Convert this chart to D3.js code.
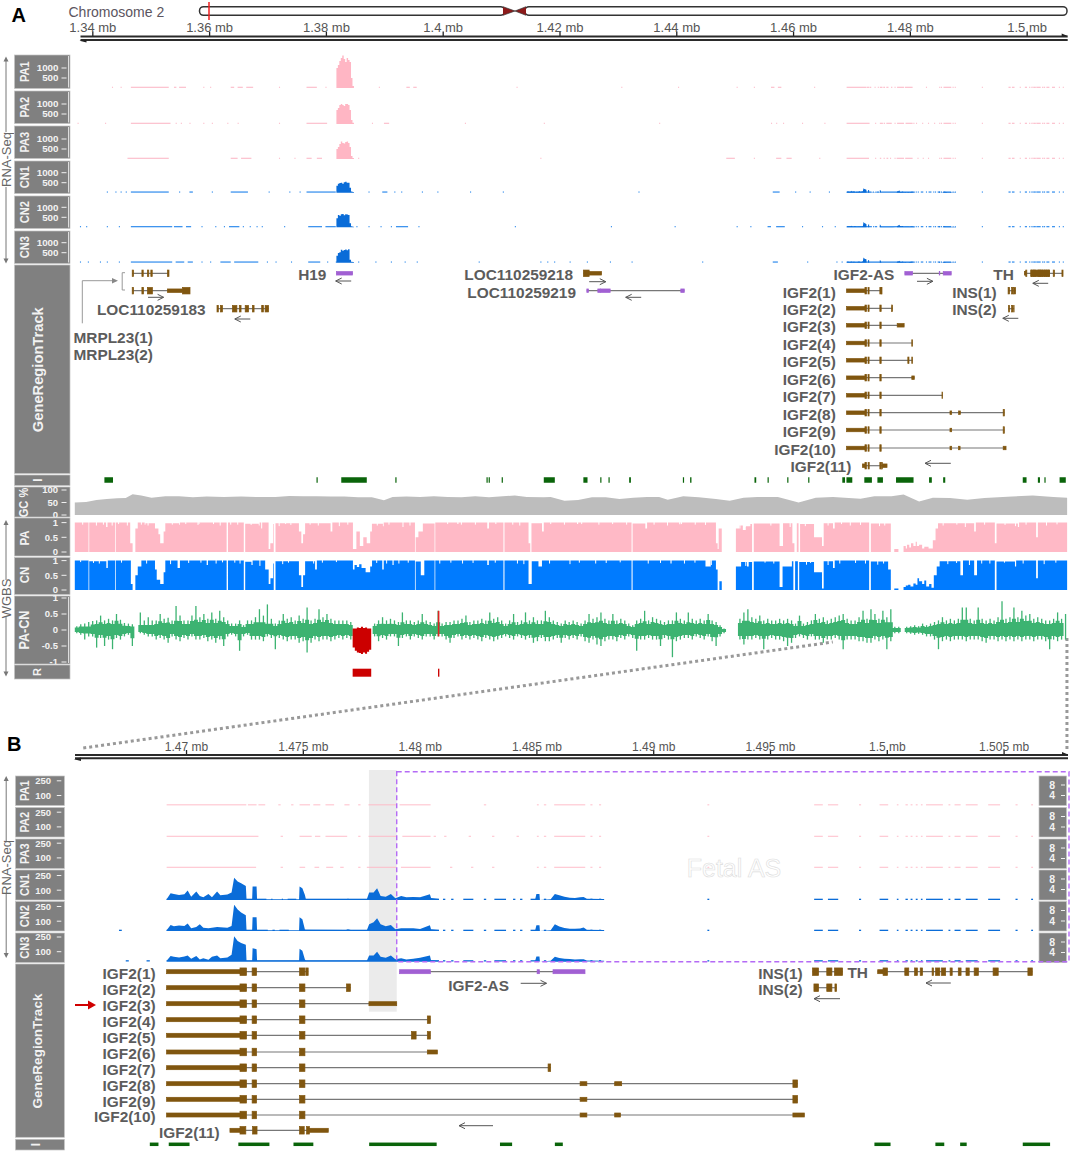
<!DOCTYPE html>
<html lang="en">
<head>
<meta charset="UTF-8">
<title>IGF2 locus tracks</title>
<script src="https://cdn.jsdelivr.net/npm/d3@7"></script>
<style>
    body { margin: 0; background: #fff; }
    svg { display: block; font-family: "Liberation Sans", Arial, sans-serif; }
</style>
</head>
<body>
<svg width="1072" height="1159"></svg>
<script>

// all genomic positions are in kb on chromosome 2

const ticksA = [1340, 1360, 1380, 1400, 1420, 1440, 1460, 1480, 1500];
const ticksB = [1470, 1475, 1480, 1485, 1490, 1495, 1500, 1505];

// RNA-seq: H19 peak (read depth)
const h19Kb = [1381.8, 1382.05, 1382.3, 1382.55, 1382.8, 1383.05, 1383.3, 1383.55, 1383.8, 1384.05, 1384.3, 1384.55, 1384.8];
const h19Pa1 = [1000, 1150, 1350, 1500, 1620, 1450, 1300, 1500, 1400, 1300, 500, 100, 100];
const h19Pa2 = [700, 800, 950, 1000, 950, 900, 1000, 1000, 950, 700, 200, 60, 60];
const h19Pa3 = [500, 600, 750, 880, 800, 780, 850, 880, 800, 600, 150, 50, 50];
const h19Cn1 = [350, 450, 480, 500, 450, 520, 550, 500, 500, 250, 60, 30, 30];
const h19Cn2 = [450, 620, 580, 650, 660, 600, 650, 640, 620, 200, 50, 30, 30];
const h19Cn3 = [350, 480, 520, 650, 600, 640, 660, 620, 670, 150, 50, 30, 30];

// RNA-seq: IGF2 region, control samples
const igfKb = [1469.17, 1469.34, 1469.48, 1469.7, 1469.93, 1470.07, 1470.22, 1470.44, 1470.59, 1470.74, 1470.96, 1471.11,
    1471.33, 1471.47, 1471.77, 1471.95, 1472.06, 1472.21, 1472.36, 1472.56, 1472.59, 1472.83, 1472.85, 1473.02, 1473.04,
    1474.84, 1474.86, 1474.98, 1475.09, 1475.13, 1476.85, 1476.93, 1477.05, 1477.74, 1477.84, 1478.03, 1478.18, 1478.33,
    1478.55, 1478.77, 1478.96, 1479.21, 1479.43, 1479.73, 1480.02, 1480.44, 1480.49, 1480.83];
const igfCn1 = [7, 69, 62, 52, 58, 96, 34, 86, 41, 28, 62, 28, 86, 48, 55, 76, 227, 189, 172, 144, 7, 7, 138, 138, 7, 7, 138, 120, 52, 10, 7, 14, 7, 7, 76, 76, 120, 41, 34, 62, 17, 41, 28, 31, 28, 58, 21, 10];
const igfCn2 = [7, 62, 48, 55, 52, 76, 28, 41, 69, 34, 28, 34, 41, 38, 34, 52, 268, 220, 190, 160, 7, 7, 140, 140, 7, 7, 140, 120, 15, 14, 10, 17, 10, 7, 69, 90, 131, 69, 48, 62, 17, 27, 28, 28, 21, 58, 17, 10];
const igfCn3 = [7, 55, 48, 41, 52, 62, 28, 55, 21, 34, 17, 48, 62, 34, 41, 69, 258, 210, 190, 170, 7, 7, 135, 125, 7, 7, 130, 110, 20, 7, 7, 7, 7, 7, 62, 60, 100, 48, 38, 62, 24, 34, 20, 28, 38, 62, 14, 7];

const asKb = [1484.95, 1485.0, 1485.13, 1485.15, 1485.61, 1485.79, 1485.98, 1486.2, 1486.43, 1486.65, 1486.87, 1487.02, 1487.16, 1487.9];
const asCn1 = [10, 62, 62, 0, 7, 62, 48, 34, 24, 21, 28, 31, 14, 10];
const asCn2 = [10, 58, 58, 0, 7, 70, 45, 30, 24, 22, 26, 36, 12, 10];
const asCn3 = [10, 50, 50, 0, 7, 48, 36, 28, 26, 20, 24, 22, 10, 8];

// RNA-seq: covered stretches outside the peaks
const pa1Cover = [[1343.36, 1343.5], [1344.84, 1345], [1346.6, 1353.09], [1353.98, 1354.39], [1354.86, 1356.04], [1359, 1359.15], [1360.17, 1360.3], [1363.7, 1364.29], [1364.88, 1365.77], [1366.36, 1367.54], [1371.96, 1372.1], [1376.68, 1378.45], [1379.92, 1380.1], [1389.06, 1389.2], [1393.78, 1394.37], [1394.96, 1395.55], [1412.64, 1412.8], [1430.58, 1430.75], [1440.3, 1440.45], [1450.33, 1450.5], [1453.28, 1453.4], [1456.22, 1456.81], [1457.4, 1457.99], [1463.6, 1463.75],
    [1469.17, 1472.58], [1472.65, 1473.02], [1473.1, 1473.39], [1473.95, 1474.05], [1474.5, 1474.6], [1474.86, 1475.31], [1475.45, 1475.75], [1475.97, 1476.34], [1476.78, 1477], [1477.37, 1477.47], [1477.81, 1478.99], [1479.14, 1480.47], [1482.75, 1482.85]];
const pa2Cover = [[1337.47, 1337.6], [1342.18, 1342.3], [1346.6, 1353.39], [1354.27, 1354.4], [1355.15, 1355.3], [1356.63, 1356.8], [1359, 1359.15], [1360.46, 1360.6], [1363.11, 1363.25], [1364.88, 1365], [1371.96, 1372.1], [1376.68, 1380.21], [1387.88, 1388], [1389.94, 1390.83], [1403.8, 1403.95], [1417.31, 1417.45], [1437.06, 1437.2], [1456.22, 1456.35], [1457.1, 1457.25], [1458.28, 1458.4], [1461.53, 1461.65], [1465.36, 1465.5],
    [1469.17, 1473.1], [1474.05, 1474.15], [1474.86, 1475.38], [1475.52, 1475.75], [1475.97, 1476.9], [1477.37, 1477.47], [1477.81, 1478.99], [1479.26, 1480.47], [1480.6, 1480.7], [1481.05, 1481.15], [1482.1, 1482.2], [1483.1, 1483.2], [1484.15, 1484.25]];
const pa3Cover = [[1346.02, 1353.09], [1363.7, 1364.88], [1365.47, 1367.24], [1371.96, 1372.1], [1374.61, 1374.75], [1376.68, 1377.56], [1378.45, 1379.33], [1385.52, 1385.65], [1416.72, 1416.85], [1448.56, 1450.03], [1453.28, 1453.4], [1457.1, 1457.99], [1458.87, 1459.76], [1464.48, 1464.6],
    [1469.17, 1473], [1474.05, 1474.15], [1474.86, 1475.1], [1475.5, 1475.7], [1476, 1476.3], [1476.6, 1476.75], [1477.37, 1477.47], [1477.74, 1478.99], [1479.2, 1480.47], [1481.3, 1481.4], [1482.2, 1482.3], [1483.1, 1483.2]];
const cn1Cover = [[1342.48, 1342.6], [1343.95, 1344.1], [1344.84, 1345], [1345.72, 1345.85], [1346.6, 1353.09], [1354.86, 1355], [1356.63, 1357.22], [1360.46, 1360.6], [1363.7, 1366.65], [1370.19, 1370.35], [1373.73, 1373.85], [1375.49, 1375.6], [1376.68, 1381.69], [1387.29, 1387.4], [1389.65, 1390.53], [1391.71, 1391.85], [1392.89, 1393], [1396.43, 1396.55], [1399.08, 1399.2], [1404.68, 1404.8], [1410.29, 1410.4], [1433.52, 1433.65], [1456.52, 1457.7], [1460.35, 1460.5], [1462.83, 1462.95], [1466.13, 1466.25],
    [1469.17, 1473.44], [1473.65, 1473.7], [1474.1, 1474.15], [1474.35, 1474.72], [1475.1, 1480.83]];
const cn2Cover = [[1337.88, 1338], [1338.94, 1339.05], [1342.48, 1342.6], [1344.54, 1344.65], [1346.6, 1353.68], [1353.98, 1355.45], [1356.04, 1356.92], [1358.69, 1358.8], [1361.05, 1361.2], [1362.53, 1362.65], [1363.41, 1365.18], [1365.77, 1365.9], [1366.95, 1367.1], [1368.12, 1368.25], [1369.01, 1369.15], [1372.84, 1372.95], [1376.97, 1379.33], [1379.92, 1381.69], [1385.22, 1385.35], [1387.29, 1387.4], [1389.35, 1389.5], [1391.12, 1391.25], [1392, 1394.07], [1395.84, 1395.95], [1412.35, 1412.5], [1428.8, 1428.95], [1439.71, 1439.85], [1450.33, 1450.45], [1452.68, 1452.8], [1455.63, 1456.22], [1457.1, 1458.58], [1461.53, 1461.65], [1464.95, 1465.05], [1467.13, 1467.25],
    [1469.17, 1473.5], [1473.7, 1473.8], [1474, 1474.4], [1474.84, 1480.83]];
const cn3Cover = [[1337.88, 1338], [1339.23, 1339.35], [1341.3, 1341.4], [1342.48, 1342.6], [1344.54, 1344.65], [1346.6, 1353.68], [1354.27, 1355.74], [1356.33, 1357.22], [1358.69, 1358.8], [1360.17, 1360.3], [1361.93, 1363.7], [1364.29, 1368.42], [1369.89, 1370], [1371.37, 1371.5], [1374.02, 1374.15], [1376.97, 1379.03], [1380.21, 1380.35], [1381.69, 1381.8], [1385.52, 1385.65], [1388.47, 1388.6], [1391.12, 1391.25], [1393.48, 1393.6], [1395.55, 1395.7], [1406.16, 1406.3], [1416.72, 1416.85], [1417.9, 1418], [1419.08, 1419.2], [1421.73, 1421.85], [1424.68, 1424.8], [1428.63, 1428.75], [1432.34, 1432.45], [1444.43, 1444.55], [1456.52, 1457.4], [1462.41, 1462.55], [1467.42, 1467.55], [1468.31, 1468.45],
    [1469.17, 1480.83]];
const cnMidCover = [[1481, 1481.1], [1481.35, 1481.45], [1481.87, 1482.3], [1482.75, 1482.85], [1483.2, 1483.7], [1484, 1484.1], [1484.3, 1484.4], [1484.75, 1485]];
const sharedRightCover = [[1485.02, 1485.1], [1485.32, 1485.42], [1485.76, 1487.09], [1487.31, 1487.4], [1487.68, 1487.77], [1492.32, 1492.4], [1496.89, 1497.26], [1497.48, 1497.92], [1498.81, 1498.9], [1499.69, 1500.06], [1500.43, 1500.5], [1500.8, 1500.9], [1501.02, 1501.1], [1501.24, 1501.32], [1501.46, 1501.53], [1501.68, 1502.4], [1502.64, 1502.72], [1502.9, 1503.16], [1503.38, 1503.89], [1504.34, 1504.85], [1505.51, 1505.6], [1506.18, 1506.26]];

// genes: exon lists
const igfUtr = [[1469.17, 1472.31]];
const igfCds = [[1472.31, 1472.59], [1472.83, 1473.02], [1474.86, 1475.09]];
const igf11Utr = [[1471.88, 1472.31], [1475.28, 1476.09]];
const igf11Cds = [[1472.31, 1472.56], [1472.85, 1473.04], [1474.86, 1475.06], [1475.16, 1475.28]];
const thCds = [[1499.84, 1500.03], [1500.77, 1500.94], [1501.19, 1501.31], [1501.43, 1501.53], [1501.94, 1502], [1502.09, 1502.27], [1502.34, 1502.52], [1502.71, 1502.8], [1503.06, 1503.18], [1503.39, 1503.53], [1503.74, 1503.92], [1504.55, 1504.77], [1506.04, 1506.23]];
const thUtr = [[1499.61, 1499.84]];
const thBlockA = [[1500.7, 1503.92]]; // reads as one block at the wide zoom
const genes = {
    "IGF2(1)": { tall: igfCds.concat([[1475.13, 1475.23]]), mid: igfUtr },
    "IGF2(2)": { tall: igfCds.concat([[1476.87, 1477.04]]), mid: igfUtr },
    "IGF2(3)": { tall: igfCds, mid: igfUtr.concat([[1477.83, 1479.02]]) },
    "IGF2(4)": { tall: igfCds.concat([[1480.33, 1480.46]]), mid: igfUtr },
    "IGF2(5)": { tall: igfCds.concat([[1479.65, 1479.85], [1480.33, 1480.46]]), mid: igfUtr },
    "IGF2(6)": { tall: igfCds, mid: igfUtr.concat([[1480.33, 1480.76]]) },
    "IGF2(7)": { tall: igfCds.concat([[1485.5, 1485.61]]), mid: igfUtr },
    "IGF2(8)": { tall: igfCds.concat([[1495.98, 1496.18]]), mid: igfUtr.concat([[1486.87, 1487.16], [1488.35, 1488.65]]) },
    "IGF2(9)": { tall: igfCds.concat([[1495.98, 1496.18]]), mid: igfUtr.concat([[1486.87, 1487.16]]) },
    "IGF2(10)": { tall: igfCds, mid: igfUtr.concat([[1486.87, 1487.16], [1488.35, 1488.6], [1495.98, 1496.47]]) },
    "IGF2(11)": { tall: igf11Cds, mid: igf11Utr },
    "IGF2-AS": { tall: [], mid: [[1479.14, 1480.46], [1485.03, 1485.13], [1485.71, 1487.08]], color: "#a160d3" },
    "INS(1)": { tall: [[1496.82, 1497.08], [1497.43, 1497.65], [1497.76, 1498.11]], mid: [] },
    "INS(2)": { tall: [[1496.88, 1497.08], [1497.43, 1497.65], [1497.78, 1497.85]], mid: [] },
    "TH": { tall: thCds, mid: thUtr },
    "TH-wide": { tall: thCds.concat(thBlockA), mid: thUtr },
    "MRPL23(1)": { tall: [[1346.83, 1347.07], [1348.49, 1348.72], [1349.43, 1349.67], [1350.02, 1350.26], [1352.86, 1353.13]], mid: [] },
    "MRPL23(2)": { tall: [[1346.83, 1347.07], [1348.49, 1348.78], [1349.43, 1350.3], [1355.45, 1356.73]], mid: [[1352.86, 1355.45]] },
    "LOC110259183": { tall: [[1361.35, 1361.58], [1361.94, 1362.3], [1363.99, 1364.76], [1365.17, 1365.47], [1366.18, 1366.76], [1367.41, 1367.7], [1369, 1369.3], [1369.59, 1370.19]], mid: [] },
    "H19": { tall: [], mid: [[1381.8, 1384.57]], color: "#a160d3" },
    "LOC110259218": { tall: [[1424.09, 1425.08]], mid: [[1425.08, 1427.2]] },
    "LOC110259219": { tall: [], mid: [[1424.68, 1424.97], [1426.56, 1427.04], [1427.04, 1428.68], [1440.77, 1441.37]], color: "#a160d3" }
};

// CpG islands
const cpgA = [[1342.07, 1343.54], [1378.39, 1378.5], [1382.63, 1387], [1391.89, 1392.07], [1407.5, 1407.7], [1407.87, 1407.99], [1410.1, 1410.29], [1417.31, 1419.2], [1424.09, 1424.8], [1426.98, 1427.16], [1428.39, 1428.57], [1431.93, 1432.23], [1441.13, 1441.25], [1442.37, 1442.6], [1453.39, 1453.69], [1455.63, 1455.75], [1459, 1459.11], [1462.59, 1462.71], [1468.43, 1468.9], [1469.14, 1470.14], [1472.2, 1473.5], [1474.44, 1475.39], [1477.63, 1480.63], [1483.29, 1483.76], [1485.7, 1486.06], [1499.33, 1499.98], [1501.92, 1502.28], [1503.04, 1503.22], [1505.64, 1506.7]];
const cpgB = [[1468.45, 1468.82], [1469.26, 1470.15], [1472.24, 1473.57], [1474.6, 1475.45], [1477.84, 1480.73], [1483.44, 1483.96], [1485.79, 1486.13], [1499.47, 1500.16], [1502.08, 1502.46], [1503.14, 1503.42], [1505.82, 1506.99]];

// GC content
const gcKb = [1337, 1338.94, 1340.71, 1342.48, 1344.25, 1345.72, 1346.9, 1348.38, 1350.14, 1352.5, 1354.86, 1357.22, 1359.58, 1362.53, 1365.47, 1368.42, 1371.37, 1373.73, 1376.09, 1378.45, 1380.8, 1383.16, 1385.52, 1387.88, 1389.94, 1391.42, 1393.78, 1396.13, 1398.49, 1400.85, 1403.21, 1405.57, 1407.93, 1410.29, 1412.35, 1414.41,
    1417.31, 1418.49, 1420.85, 1423.2, 1425.56, 1427.92, 1430.28, 1432.64, 1435, 1437.06, 1438.54, 1441.19, 1443.84, 1446.79, 1449.15, 1451.51, 1453.87, 1457.4, 1460.94, 1463.89, 1466.84, 1471.55, 1473.91, 1476.86, 1478.92, 1481.58, 1483.94, 1486.88, 1489.83, 1492.78, 1497.5, 1501.04, 1504.57, 1506.93];
const gcPct = [50, 52, 60, 64, 67, 68, 83, 78, 69, 75, 75, 71, 74, 72, 74, 72, 72, 76, 75, 75, 74, 74, 71, 71, 59, 72, 74, 72, 75, 72, 71, 75, 71, 75, 78, 72,
    71, 72, 57, 60, 71, 71, 64, 69, 72, 72, 61, 75, 71, 64, 57, 69, 72, 72, 50, 69, 72, 65, 75, 75, 82, 54, 69, 68, 61, 68, 74, 78, 72, 69];

// WGBS methylation level, [kb, level from here on]
const paMeth = [[1337, 1], [1339.35, 0], [1339.47, 1], [1342.36, .85], [1342.6, 1], [1343.89, 0], [1344.01, 1], [1346.49, .3], [1346.9, 0], [1347.37, .8], [1347.78, 1], [1348.96, .93], [1349.1, .98], [1350.73, .8], [1351.32, .6], [1351.62, .3], [1352.21, .7], [1352.5, .98], [1354.86, .93], [1355, 1], [1358.2, .95], [1358.35, 1], [1363, 0], [1363.23, 1], [1365.94, 0], [1366.18, .96], [1368.5, .9], [1368.65, 1], [1370.19, .1], [1370.48, .3], [1370.96, .95], [1371.07, 0], [1371.37, .98], [1375.38, .7], [1375.79, .3], [1376.09, .6], [1376.44, .98], [1380.8, .7], [1381.1, 1], [1384.63, .1], [1385.22, .7], [1385.81, .2], [1386.4, .5], [1386.99, .3], [1387.58, .7], [1387.88, .96], [1389.76, .88], [1389.9, 1], [1395.25, 0], [1395.37, .5], [1395.84, .7], [1396.6, .97], [1398.61, 0], [1398.73, 1], [1402.5, .95], [1402.7, 1], [1407.63, .8], [1407.92, 1], [1410.4, 0], [1410.58, 1], [1414.7, .3], [1415, 0], [1415.2, .98], [1417.01, .7], [1417.31, 1], [1423, .95], [1423.2, 1], [1432.34, 0], [1432.52, .97], [1434.7, .8], [1435, 1], [1440.5, .94], [1440.7, 1], [1446.79, .3], [1447.08, .1], [1447.26, .8], [1447.79, 0], [1450.21, .8], [1450.8, .9], [1451.4, .75], [1451.9, .88], [1452.68, .95], [1452.98, 0], [1453.27, .97], [1457.69, .2], [1458.28, .98], [1459.88, .3], [1460.23, 0], [1460.64, .98], [1460.94, 0], [1461.2, .95], [1463.59, .5], [1464.95, .2], [1465.24, .98], [1466.84, .8], [1467.13, 1], [1473.03, 0], [1473.32, .97], [1476.74, 0], [1477.33, .1], [1478.04, 0], [1478.92, .2], [1479.3, .12], [1479.5, .25], [1479.9, .15], [1480.2, .3], [1480.6, .2], [1481, .35], [1481.2, .2], [1481.58, .25], [1482.1, .12], [1482.47, .18], [1483.2, .12], [1483.93, .4], [1484.4, .8], [1484.82, .98], [1491.01, .7], [1491.3, 1], [1494.55, .3], [1494.84, .97], [1498.5, .85], [1498.7, 1], [1501.62, .5], [1501.92, 1], [1506.93, 1]];
const cnMeth = [[1337, 1], [1339.35, 0], [1339.47, .98], [1342.4, .75], [1342.65, 1], [1343.89, 0], [1344.01, 1], [1346.6, .2], [1346.9, 0], [1347.37, .5], [1347.78, .8], [1348.4, 1], [1350.73, .7], [1351.03, .35], [1351.62, .2], [1352.21, .6], [1352.5, 1], [1354.6, .75], [1355, 1], [1359.58, .85], [1359.8, 1], [1363, 0], [1363.23, 1], [1365.94, 0], [1366.18, .96], [1367.25, .85], [1367.45, 1], [1369.6, .7], [1370.2, .2], [1370.5, .4], [1370.96, .9], [1371.07, 0], [1371.37, .98], [1375.38, .5], [1375.79, .1], [1376.09, .5], [1376.44, .98], [1378.15, .7], [1378.45, 1], [1384.63, .7], [1384.9, .85], [1385.3, .78], [1385.7, .88], [1386.1, .75], [1386.8, .6], [1387.58, .8], [1387.9, 1], [1389.65, .7], [1389.9, 1], [1391.4, .85], [1391.6, 1], [1395.25, 0], [1395.37, .97], [1396.25, .5], [1396.85, 1], [1398.61, 0], [1398.73, 1], [1407.63, .85], [1407.9, 1], [1410.4, 0], [1410.58, 1], [1414.7, .2], [1415.25, .98], [1416.4, .8], [1417, 1], [1432.34, 0], [1432.52, 1], [1439, .9], [1439.2, 1], [1445, .8], [1445.9, 1], [1446.79, .7], [1447.08, 0], [1447.38, .3], [1447.79, 0], [1450.21, .8], [1451.1, .95], [1452.1, .8], [1452.4, .95], [1452.98, 0], [1453.27, .97], [1457.69, .1], [1458.2, .8], [1459.8, .98], [1460.05, 0], [1460.35, .98], [1460.82, 0], [1461.05, .95], [1463.59, .6], [1464.95, .05], [1465.24, .98], [1466.84, .75], [1467.13, 1], [1473.03, 0], [1473.32, .97], [1476.28, .7], [1476.74, 0], [1477.33, .05], [1478.04, 0], [1478.92, .1], [1479.3, .15], [1479.7, .18], [1480.1, .12], [1480.6, .22], [1481, .18], [1481.3, .4], [1481.58, .3], [1482.1, .2], [1482.47, .32], [1482.8, .12], [1483.3, .2], [1483.7, .08], [1484.1, .5], [1484.6, .8], [1485.1, .98], [1488.65, .5], [1489.1, 1], [1491.01, .5], [1491.5, 1], [1494.55, 0], [1494.84, .97], [1498, .8], [1498.2, 1], [1501.62, .4], [1501.92, 1], [1506.93, 1]];

// small notches in the top edge of the methylation tracks, [kb, level]
const paNotches = [[1338.35, .93], [1340.7, .9], [1341.9, .93], [1343.4, .9], [1344.5, .95], [1346, .9], [1348.4, .93], [1349.55, .9], [1353.7, .93], [1356, .95], [1358.1, .92], [1360.75, .95], [1361.9, .9], [1363.7, .93], [1364.9, .93], [1367.2, .92], [1369, .8], [1372, .88], [1373.1, .95], [1374, .92], [1377.3, .93], [1378.7, .9], [1382.3, .88], [1383.75, .93], [1388.8, .9], [1390.8, .93], [1393.2, .85], [1394.4, .9], [1400.85, .95], [1403.2, .93], [1405.6, .93], [1409.1, .95], [1412, .93], [1413.2, .9], [1418.5, .95], [1420.85, .93], [1423.8, .95], [1426.75, .93], [1429.1, .95], [1431.5, .93], [1436.2, .93], [1438.5, .9], [1440.9, .95], [1443.25, .93], [1445, .92], [1450.9, .8], [1451.8, .85], [1456.2, .9], [1459.5, .85], [1462.1, .88], [1466, .9], [1468.3, .95], [1469.8, .9], [1471.55, .92], [1474.8, .88], [1475.7, .9], [1485.7, .9], [1488.05, .93], [1489.5, .85], [1492.8, .93], [1496.3, .92], [1498.1, .88], [1499.9, .93], [1503.4, .9], [1505.2, .94]];
const cnNotches = [[1338, .95], [1340.2, .92], [1341.2, .9], [1345, .93], [1349.3, .9], [1353.4, .88], [1356.5, .92], [1358.6, .93], [1361.2, .9], [1362.3, .94], [1364.4, .93], [1365.3, .9], [1368.7, .82], [1372.6, .88], [1373.6, .93], [1377.9, .9], [1379.4, .93], [1381.8, .95], [1388.7, .92], [1390.4, .9], [1392.5, .9], [1394.1, .93], [1399.5, .9], [1401.4, .93], [1403.4, .9], [1405.2, .92], [1409, .93], [1412.8, .9], [1413.9, .88], [1418.3, .9], [1421.8, .88], [1423.4, .93], [1426.2, .9], [1428, .92], [1430.4, .94], [1435.2, .9], [1437.3, .92], [1441.4, .9], [1443.2, .93], [1446, .85], [1449.9, .9], [1451.9, .82], [1455.2, .93], [1456.7, .9], [1462.3, .86], [1463, .92], [1466, .85], [1468, .9], [1470.7, .92], [1472.4, .9], [1474.5, .86], [1475.5, .9], [1486.5, .88], [1488, .92], [1490.2, .85], [1492.3, .9], [1493.7, .9], [1496.2, .93], [1499.4, .9], [1503, .88], [1505, .93]];

// PA-CN difference, one value per 0.68 kb bin from 1337 kb
const diffStart = 1337, diffStep = 0.68;
const diffUp = [.12, .18, .2, .25, .28, .3, .45, .3, .35, .3, .5, .32, .22, .2, .18, 0, .55, .3, .4, .3,
    .3, .5, .35, .38, .3, .75, .45, .3, .3, .45, .75, .4, .5, .35, .55, .35, .6, .4, .3, .2,
    .2, .3, .15, .3, .3, .4, .65, .45, .8, .35, .2, .3, .5, .35, .4, .3, .45, .35, .7, .3,
    .35, .65, .4, .5, .35, .3, .3, .3, .3, .25, 0, 0, 0, 0, 0, .2, .3, .4, .3, .35,
    .3, .25, .55, .3, .3, .25, .3, .5, .3, .25, .2, .6, .2, .25, .25, .3, .3, .35, .45, .25,
    .3, .3, .35, .3, .55, .35, .4, .3, .2, .3, .5, .25, .3, .55, .3, .4, .3, .3, .6, .4,
    .3, .25, .2, .3, .25, .3, .25, .2, .3, .5, .35, .4, .55, .35, .3, .5, .3, .35, .3, .2,
    .15, .3, .35, .6, .3, .4, .35, .3, .25, .3, .3, .55, .35, .3, .55, .35, .3, .35, .3, .5,
    .3, .25, .15, .05, 0, 0, 0, .35, .55, .65, .4, .35, .45, .3, .35, .3, .3, .35, .3, .35,
    .3, .2, .45, .2, .25, .3, .5, .35, .4, .3, .35, .4, .45, .5, .35, .3, .3, .4, .6, .35,
    .65, .5, .35, .6, .4, .65, .1, .1, 0, .1, .12, .15, .12, .2, .15, .2, .25, .3, .4, .3,
    .35, .3, .35, .7, .7, .35, .3, .7, .35, .3, .35, .3, .4, .9, .35, .4, .7, .4, .6, .45, .5, .35, .4, .35, .3, .3, .35, .55, .35, .5];
const diffDown = [-.1, -.15, -.3, -.2, -.2, -.55, -.25, -.5, -.3, -.6, -.25, -.3, -.2, -.15, -.5, 0, -.1, -.15, -.2, -.2,
    -.3, -.25, -.3, -.4, -.2, -.3, -.35, -.25, -.3, -.2, -.3, -.3, -.25, -.35, -.3, -.4, -.3, -.5, -.2, -.15,
    -.2, -.65, -.2, -.15, -.3, -.3, -.3, -.35, -.2, -.25, -.6, -.25, -.3, -.35, -.3, -.3, -.4, -.35, -.7, -.4,
    -.3, -.35, -.3, -.3, -.35, -.3, -.25, -.3, -.25, -.3, 0, 0, 0, 0, 0, -.2, -.35, -.25, -.3, -.2,
    -.2, -.5, -.25, -.2, -.3, -.2, -.25, -.3, -.2, -.2, -.3, -.2, -.2, -.3, -.4, -.25, -.2, -.3, -.25, -.3,
    -.25, -.3, -.35, -.25, -.3, -.35, -.3, -.25, -.2, -.25, -.3, -.2, -.25, -.3, -.25, -.4, -.35, -.25, -.35, -.35,
    -.3, -.25, -.4, -.25, -.3, -.25, -.3, -.2, -.35, -.4, -.3, -.45, -.5, -.35, -.3, -.3, -.35, -.25, -.3, -.2,
    -.25, -.65, -.3, -.3, -.25, -.3, -.3, -.5, -.25, -.3, -.85, -.35, -.3, -.25, -.25, -.3, -.2, -.25, -.3, -.2,
    -.35, -.5, -.2, -.1, 0, 0, 0, -.3, -.45, -.3, -.3, -.25, -.3, -.6, -.3, -.25, -.3, -.3, -.35, -.5,
    -.4, -.25, -.2, -.25, -.3, -.2, -.3, -.3, -.4, -.3, -.3, -.25, -.3, -.6, -.3, -.3, -.3, -.35, -.35, -.4,
    -.4, -.3, -.35, -.3, -.6, -.35, -.1, -.1, 0, -.1, -.12, -.15, -.12, -.15, -.2, -.2, -.3, -.6, -.35, -.3,
    -.35, -.3, -.3, -.3, -.35, -.3, -.3, -.3, -.35, -.4, -.3, -.3, -.35, -.3, -.35, -.3, -.35, -.3, -.35, -.3, -.3, -.35, -.3, -.3, -.35, -.6, -.3, -.35, -.3, -.3];
// thickness of the solid middle band, one value per 4 bins
const diffCore = [.07, .15, .18, .16, .1, .17, .18, .2, .2, .18, .2, .15, .12, .18, .2, .2, .2, .2, .18, .12, .15, .15, .15, .15, .15, .15, .18, .15, .15, .17, .15, .15, .15, .18, .2, .17, .18, .18, .15, .2, .14, .17, .18, .17, .15, .2, .2, .17, .2, .2, .2, .15, .12, .15, .15, .2, .2, .18, .2, .22, .18, .18, .18];

// differentially methylated regions
const dmrRegions = [[1384.58, 1387.76], [1399.2, 1399.43]];
const dmrKb = [1384.58, 1384.95, 1385.3, 1385.65, 1386, 1386.35, 1386.7, 1387.05, 1387.4, 1387.76];
const dmrUp = [.05, .05, .08, .06, .1, .06, .08, .05, .05, .04];
const dmrDown = [-.55, -.65, -.7, -.72, -.75, -.7, -.74, -.68, -.62, -.55];

// Track layout (pixels)
const rowsA = [
    { name: "PA1", y0: 55, y1: 88.5, base: 88, hist: h19Pa1, cover: pa1Cover, pa: true },
    { name: "PA2", y0: 91, y1: 123.5, base: 124, hist: h19Pa2, cover: pa2Cover, pa: true },
    { name: "PA3", y0: 126, y1: 158.5, base: 159, hist: h19Pa3, cover: pa3Cover, pa: true },
    { name: "CN1", y0: 161, y1: 193.5, base: 192.7, hist: h19Cn1, cover: cn1Cover, igf: igfCn1, as: asCn1 },
    { name: "CN2", y0: 196, y1: 228.5, base: 227.3, hist: h19Cn2, cover: cn2Cover, igf: igfCn2, as: asCn2 },
    { name: "CN3", y0: 231, y1: 263.5, base: 262.7, hist: h19Cn3, cover: cn3Cover, igf: igfCn3, as: asCn3 }
];
const rowsB = [
    { name: "PA1", y0: 776, y1: 805.5, base: 805.3, cover: pa1Cover, pa: true },
    { name: "PA2", y0: 807.5, y1: 837, base: 836.7, cover: pa2Cover, pa: true },
    { name: "PA3", y0: 839, y1: 868.5, base: 867.7, cover: pa3Cover, pa: true },
    { name: "CN1", y0: 870, y1: 900, base: 900, cover: cn1Cover, igf: igfCn1, as: asCn1 },
    { name: "CN2", y0: 901.5, y1: 931, base: 931, cover: cn2Cover, igf: igfCn2, as: asCn2 },
    { name: "CN3", y0: 933, y1: 962.5, base: 961.5, cover: cn3Cover, igf: igfCn3, as: asCn3 }
];
const igf2Names = d3.range(1, 12).map(i => "IGF2(" + i + ")");
const igf2YA = [290.7, 308.3, 325.3, 343, 360.3, 377.7, 395.3, 412.7, 430, 448, 465.7];
const igf2YB = [971.7, 987.7, 1003.7, 1019.7, 1035.3, 1052, 1067.7, 1083.7, 1099.3, 1115, 1130.3];

const colors = { side: "#808080", gene: "#80560f", intron: "#777", cpg: "#0a640a", pa: "#ffb6c4", paLight: "#fcc4d0", cn: "#0a6cd8", cnLight: "#3f94ee", paMeth: "#ffb9c6", cnMeth: "#007bff", green: "#3cb371", red: "#cc0000", gc: "#bdbdbd", text: "#5c5c5c" };

let svg = d3.select("svg");

const xA = d3.scaleLinear().domain([1337, 1507.2]).range([74.8, 1068.7]);
const xB = d3.scaleLinear().domain([1465.2, 1507.8]).range([73.9, 1069]);

function sideBox(g, x0, x1, y0, y1) {
    g.append("rect").attr("x", x0).attr("y", y0).attr("width", x1 - x0).attr("height", y1 - y0)
        .attr("fill", colors.side).attr("stroke", "#c4c4c4").attr("stroke-width", 0.7);
}

function rotText(g, txt, x, y, size, color, weight, squeeze) {
    return g.append("text").text(txt)
        .attr("transform", "translate(" + x + "," + y + ") rotate(-90) scale(" + (squeeze || 1) + ",1)")
        .attr("text-anchor", "middle").attr("dy", ".35em")
        .attr("font-size", size).attr("fill", color).attr("font-weight", weight || "bold");
}

// white value labels and tick marks inside the grey side boxes
function sideTicks(g, y, values, labelX, t0, t1, size) {
    values.forEach(function (v) {
        g.append("line").attr("x1", t0).attr("x2", t1).attr("y1", y(v)).attr("y2", y(v))
            .attr("stroke", "#f0f0f0").attr("stroke-width", 1);
        g.append("text").text(v).attr("x", labelX).attr("y", y(v)).attr("dy", ".35em")
            .attr("text-anchor", "end").attr("font-size", size).attr("font-weight", "bold").attr("fill", "#f2f2f2");
    });
}

function vArrow(g, x, y0, y1, gap0, gap1, label) {
    let c = "#777";
    g.append("line").attr("x1", x).attr("x2", x).attr("y1", y0 + 3).attr("y2", gap0).attr("stroke", c);
    g.append("line").attr("x1", x).attr("x2", x).attr("y1", gap1).attr("y2", y1 - 3).attr("stroke", c);
    g.append("path").attr("d", d3.line()([[x - 2.5, y0 + 5], [x, y0], [x + 2.5, y0 + 5]])).attr("fill", c);
    g.append("path").attr("d", d3.line()([[x - 2.5, y1 - 5], [x, y1], [x + 2.5, y1 - 5]])).attr("fill", c);
    rotText(g, label, x, (gap0 + gap1) / 2, 13, "#666", "normal");
}

function hArrow(g, x0, x1, y, dir, color, w) {
    let c = color || "#555";
    g.append("line").attr("x1", x0).attr("x2", x1).attr("y1", y).attr("y2", y).attr("stroke", c).attr("stroke-width", w || 1);
    let tip = dir > 0 ? x1 : x0;
    g.append("path").attr("d", d3.line()([[tip - dir * 6, y - 3], [tip, y], [tip - dir * 6, y + 3]]))
        .attr("fill", "none").attr("stroke", c).attr("stroke-width", w || 1);
}

function drawAxis(g, x, ticks, yLine, xStart, fontSize) {
    let axis = g.append("g").attr("transform", "translate(0," + yLine + ")")
        .call(d3.axisTop(x).tickValues(ticks).tickFormat(d => (d / 1000) + " mb").tickSize(5).tickPadding(-0.5));
    axis.select(".domain").remove();
    axis.selectAll("line").attr("stroke", "#222").attr("stroke-width", 1.3);
    axis.selectAll("text").attr("font-size", fontSize).attr("fill", "#555").attr("font-family", "Liberation Sans, Arial, sans-serif");
    [0, 3.3].forEach(function (dy) {
        g.append("line").attr("x1", xStart).attr("x2", x.range()[1] - 1).attr("y1", yLine + dy).attr("y2", yLine + dy)
            .attr("stroke", "#2a2a2a").attr("stroke-width", 2);
    });
    g.append("path").attr("d", d3.line()([[xStart - 1, yLine + 4.2], [xStart + 6, yLine + 2.6], [xStart + 6, yLine + 6]])).attr("fill", "#222");
    g.append("path").attr("d", d3.line()([[x.range()[1] - 1, yLine - 0.6], [x.range()[1] - 7, yLine - 3], [x.range()[1] - 7, yLine]])).attr("fill", "#222");
}

// coverage of one RNA-seq sample
function drawCoverage(g, x, row, y, minH, lightColor, fullColor, fromKb) {
    let inView = d => d[1] >= fromKb && d[0] <= x.domain()[1];
    let cover = row.cover.concat(sharedRightCover, row.pa ? [] : cnMidCover).filter(inView);
    g.append("g").selectAll("rect").data(cover).join("rect")
        .attr("x", d => x(d[0])).attr("width", d => Math.max(1.1, x(d[1]) - x(d[0])))
        .attr("y", row.base - minH).attr("height", minH).attr("fill", lightColor);
    let hist = d3.area().x(d => x(d[0])).y0(row.base).y1(d => y(d[1]));
    if (row.hist) {
        g.append("path").attr("d", hist.curve(d3.curveStepAfter)(d3.zip(h19Kb, row.hist))).attr("fill", fullColor);
    }
    if (row.igf) {
        g.append("path").attr("d", hist.curve(d3.curveLinear)(d3.zip(igfKb, row.igf))).attr("fill", fullColor);
        g.append("path").attr("d", hist.curve(d3.curveLinear)(d3.zip(asKb, row.as))).attr("fill", fullColor);
    }
}

function drawGene(g, x, name, yc, tallH, midH) {
    let gene = genes[name];
    let color = gene.color || colors.gene;
    let all = gene.tall.concat(gene.mid);
    let lo = d3.min(all, d => d[0]), hi = d3.max(all, d => d[1]);
    g.append("line").attr("x1", x(lo)).attr("x2", x(hi)).attr("y1", yc).attr("y2", yc)
        .attr("stroke", colors.intron).attr("stroke-width", 1.2);
    let box = function (list, h) {
        g.append("g").selectAll("rect").data(list).join("rect")
            .attr("x", d => x(d[0])).attr("width", d => x(d[1]) - x(d[0]))
            .attr("y", yc - h / 2).attr("height", h)
            .attr("fill", color).attr("stroke", color).attr("stroke-width", 0.7);
    };
    box(gene.mid, midH);
    box(gene.tall, tallH);
}

function geneLabel(g, txt, xEnd, y) {
    g.append("text").text(txt).attr("x", xEnd).attr("y", y).attr("dy", ".35em").attr("text-anchor", "end")
        .attr("font-size", 15.4).attr("font-weight", "bold").attr("fill", colors.text);
}

function drawCpg(g, x, list, y, h) {
    g.append("g").selectAll("rect").data(list).join("rect")
        .attr("x", d => x(d[0])).attr("width", d => Math.max(1.2, x(d[1]) - x(d[0])))
        .attr("y", y - h / 2).attr("height", h).attr("fill", colors.cpg);
}

function drawMeth(g, steps, notches, y, color) {
    g.append("path").attr("d", d3.area().curve(d3.curveStepAfter).x(d => xA(d[0])).y0(y(0)).y1(d => y(d[1]))(steps)).attr("fill", color);
    g.append("g").selectAll("line").data(notches).join("line")
        .attr("x1", d => xA(d[0])).attr("x2", d => xA(d[0]))
        .attr("y1", y(1.02)).attr("y2", d => y(d[1]))
        .attr("stroke", "#fff").attr("stroke-width", 1);
}

/////////////////// zoom connectors (behind everything) ///////////////////
svg.append("line").attr("x1", xB(1465.6)).attr("y1", 748).attr("x2", xA(1466.8)).attr("y2", 642)
    .attr("stroke", "#999").attr("stroke-width", 3).attr("stroke-dasharray", "3 3");
svg.append("line").attr("x1", xA(1506.9)).attr("y1", 638).attr("x2", xA(1506.9)).attr("y2", 750)
    .attr("stroke", "#999").attr("stroke-width", 3).attr("stroke-dasharray", "3 3");

/////////////////// PANEL A ///////////////////
let a = svg.append("g");
a.append("text").text("A").attr("x", 11.5).attr("y", 22).attr("font-size", 20).attr("font-weight", "bold").attr("fill", "#000");
a.append("text").text("Chromosome 2").attr("x", 68.5).attr("y", 17).attr("font-size", 14).attr("fill", "#5b5560");

// ideogram
a.append("rect").attr("x", 199.5).attr("y", 6.7).attr("width", 305).attr("height", 8.6).attr("rx", 4)
    .attr("fill", "#fff").attr("stroke", "#333").attr("stroke-width", 1.5);
a.append("rect").attr("x", 525).attr("y", 6.7).attr("width", 542).attr("height", 8.6).attr("rx", 4)
    .attr("fill", "#fff").attr("stroke", "#333").attr("stroke-width", 1.5);
a.append("path").attr("d", d3.line()([[503, 6.7], [515, 11], [503, 15.3]])).attr("fill", "#8b1a1a").attr("stroke", "#333").attr("stroke-width", 0.7);
a.append("path").attr("d", d3.line()([[526, 6.7], [515, 11], [526, 15.3]])).attr("fill", "#8b1a1a").attr("stroke", "#333").attr("stroke-width", 0.7);
a.append("line").attr("x1", 209).attr("x2", 209).attr("y1", 2).attr("y2", 20).attr("stroke", "#f02020").attr("stroke-width", 1.5);

drawAxis(a, xA, ticksA, 36.6, 80.5, 13);

// side boxes
vArrow(a, 6, 56.5, 263.5, 132, 187, "RNA-Seq");
vArrow(a, 6, 520, 676.5, 580, 617, "WGBS");

rowsA.forEach(function (row) {
    sideBox(a, 14.5, 70, row.y0, row.y1);
    let y = d3.scaleLinear().domain([0, 1000]).range([row.base, row.base - 20]);
    rotText(a, row.name, 24, (row.y0 + row.y1) / 2, 13.5, "#f2f2f2", "bold", 0.82);
    sideTicks(a, y, [1000, 500], 58.5, 61.5, 66.5, 9.8);
    a.append("line").attr("x1", 68.5).attr("x2", 68.5).attr("y1", row.y0 + 1).attr("y2", row.y1 - 1).attr("stroke", "#ddd");
    drawCoverage(a, xA, row, y, 1.3, row.pa ? colors.paLight : colors.cnLight, row.pa ? colors.pa : colors.cn, 1337);
});

sideBox(a, 14.5, 70, 265, 473.5);
rotText(a, "GeneRegionTrack", 37.8, 369.7, 14.7, "#f2f2f2");
sideBox(a, 14.5, 70, 475, 485.5);
rotText(a, "I", 37.5, 480, 12, "#f2f2f2");

// genes
igf2Names.forEach(function (name, i) {
    drawGene(a, xA, name, igf2YA[i], 6.5, 3.5);
    if (i < 10) geneLabel(a, name, 835.8, igf2YA[i] + 1.5);
});
geneLabel(a, "IGF2(11)", 851.3, 467);
drawGene(a, xA, "MRPL23(1)", 273.3, 6.5, 3.5);
drawGene(a, xA, "MRPL23(2)", 290.7, 6.5, 3.5);
drawGene(a, xA, "LOC110259183", 308.7, 6.5, 3.5);
drawGene(a, xA, "H19", 273.3, 6.5, 3.5);
drawGene(a, xA, "LOC110259218", 273.3, 6.5, 3.5);
drawGene(a, xA, "LOC110259219", 290.7, 5, 3.5);
drawGene(a, xA, "IGF2-AS", 273.3, 6.5, 3.5);
drawGene(a, xA, "TH-wide", 273.3, 6.5, 3.5);
drawGene(a, xA, "INS(1)", 290.7, 6.5, 3.5);
drawGene(a, xA, "INS(2)", 308.7, 6.5, 3.5);

geneLabel(a, "LOC110259183", 205.6, 309.7);
geneLabel(a, "H19", 326.4, 274.3);
geneLabel(a, "LOC110259218", 573, 274.7);
geneLabel(a, "LOC110259219", 576, 292.3);
geneLabel(a, "IGF2-AS", 894.3, 274.7);
geneLabel(a, "TH", 1013.8, 274.7);
geneLabel(a, "INS(1)", 996.6, 292.3);
geneLabel(a, "INS(2)", 996.6, 309.7);
geneLabel(a, "MRPL23(1)", 153, 337.3);
geneLabel(a, "MRPL23(2)", 153, 355);

hArrow(a, 148, 163.6, 297.3, 1);
hArrow(a, 234.8, 250.3, 319, -1);
hArrow(a, 335.7, 351.2, 281, -1);
hArrow(a, 589.2, 605.8, 281.7, 1);
hArrow(a, 625.7, 641.2, 297.3, -1);
hArrow(a, 917, 932.9, 281.3, 1);
hArrow(a, 1032.8, 1048.2, 283.3, -1);
hArrow(a, 1002.8, 1018.3, 318.3, -1);
hArrow(a, 925, 950.8, 463.3, -1);

// MRPL23 leader and bracket
a.append("path").attr("d", d3.line()([[82.3, 323.3], [82.3, 280.7], [116, 280.7]])).attr("fill", "none").attr("stroke", "#999");
a.append("path").attr("d", d3.line()([[112, 278], [118, 280.7], [112, 283.4]])).attr("fill", "#888");
a.append("path").attr("d", d3.line()([[125, 272.7], [122.2, 272.7], [122.2, 290], [125, 290]])).attr("fill", "none").attr("stroke", "#999");

drawCpg(a, xA, cpgA, 480, 5.5);

// GC
sideBox(a, 14.5, 70, 487, 517);
let yGc = d3.scaleLinear().domain([0, 100]).range([515, 490]);
rotText(a, "GC %", 23.5, 502.5, 13, "#f2f2f2", "bold", 0.85);
sideTicks(a, yGc, [100, 50, 0], 58, 61.5, 66.5, 9.5);
a.append("path").attr("d", d3.area().x(d => xA(d[0])).y0(yGc(0)).y1(d => yGc(d[1]))(d3.zip(gcKb, gcPct))).attr("fill", colors.gc);

// methylation
let yPa = d3.scaleLinear().domain([0, 1]).range([552, 522.6]);
let yCn = d3.scaleLinear().domain([0, 1]).range([590, 560.6]);
sideBox(a, 14.5, 70, 518, 556);
sideBox(a, 14.5, 70, 557.5, 594.5);
rotText(a, "PA", 24, 538, 13.5, "#f2f2f2", "bold", 0.85);
rotText(a, "CN", 24, 575, 13.5, "#f2f2f2", "bold", 0.85);
sideTicks(a, yPa, [1, 0.5, 0], 58, 61.5, 66.5, 9.5);
sideTicks(a, yCn, [1, 0.5, 0], 58, 61.5, 66.5, 9.5);
drawMeth(a, paMeth, paNotches, yPa, colors.paMeth);
drawMeth(a, cnMeth, cnNotches, yCn, colors.cnMeth);

// PA-CN
let yDiff = d3.scaleLinear().domain([-1, 1]).range([662, 598]);
sideBox(a, 14.5, 70, 596, 664);
rotText(a, "PA-CN", 24, 630, 14, "#f2f2f2", "bold", 0.9);
sideTicks(a, yDiff, [1, 0.5, 0, -0.5, -1], 58, 61.5, 66.5, 9.5);
a.append("line").attr("x1", 68.5).attr("x2", 68.5).attr("y1", 597).attr("y2", 663).attr("stroke", "#ddd");

let diffBins = diffUp.map(function (u, i) {
    return { kb: diffStart + i * diffStep, up: u, down: diffDown[i], core: diffCore[Math.floor(i / 4)] };
});
a.append("g").selectAll("line").data(diffBins.filter(d => d.up !== 0)).join("line")
    .attr("x1", d => xA(d.kb + diffStep / 2)).attr("x2", d => xA(d.kb + diffStep / 2))
    .attr("y1", d => yDiff(d.up)).attr("y2", d => yDiff(d.down))
    .attr("stroke", colors.green).attr("stroke-width", 1.3);
// solid band follows the bin envelope so the edge stays jagged
a.append("path").attr("d", d3.area().curve(d3.curveStepAfter).x(d => xA(d.kb))
    .y0(d => yDiff(Math.max(d.down * 0.62, -d.core * 1.6))).y1(d => yDiff(Math.min(d.up * 0.62, d.core * 1.6)))(diffBins)).attr("fill", colors.green);
a.append("path").attr("d", d3.area().curve(d3.curveStepAfter).x(d => xA(d[0])).y0(d => yDiff(d[2])).y1(d => yDiff(d[1]))(d3.zip(dmrKb, dmrUp, dmrDown))).attr("fill", colors.red);
a.append("line").attr("x1", xA(1399.3)).attr("x2", xA(1399.3)).attr("y1", yDiff(0.6)).attr("y2", yDiff(-0.2)).attr("stroke", "#d22").attr("stroke-width", 1.6);

// R
sideBox(a, 14.5, 70, 665, 679);
rotText(a, "R", 37, 672, 11, "#f2f2f2");
a.append("g").selectAll("rect").data(dmrRegions).join("rect")
    .attr("x", d => xA(d[0])).attr("width", d => Math.max(1.2, xA(d[1]) - xA(d[0])))
    .attr("y", 668.7).attr("height", 8).attr("fill", colors.red);

/////////////////// PANEL B ///////////////////
let b = svg.append("g");
b.append("text").text("B").attr("x", 7).attr("y", 751).attr("font-size", 20).attr("font-weight", "bold").attr("fill", "#000");

// shaded last exon of IGF2(3)
b.append("rect").attr("x", xB(1477.83)).attr("width", xB(1479.02) - xB(1477.83)).attr("y", 770).attr("height", 241.7).attr("fill", "#ebebeb");

drawAxis(b, xB, ticksB, 755, 75, 12);
vArrow(b, 6.2, 776, 958, 842, 893, "RNA-Seq");

rowsB.forEach(function (row) {
    sideBox(b, 15.5, 64.4, row.y0, row.y1);
    let y = d3.scaleLinear().domain([0, 250]).range([row.base, row.base - 24.5]);
    rotText(b, row.name, 24, (row.y0 + row.y1) / 2, 13.5, "#f2f2f2", "bold", 0.82);
    sideTicks(b, y, [250, 100], 51, 56.8, 61.3, 9.5);
    drawCoverage(b, xB, row, y, row.pa ? 0.9 : 1.3, row.pa ? colors.pa : colors.cn, row.pa ? colors.pa : colors.cn, 1467);
    // right-hand scale of the low-coverage region
    sideBox(b, 1039, 1066.5, row.y0, row.y1);
    let yFine = d3.scaleLinear().domain([0, 8]).range([row.y0 + 30, row.y0 + 9]);
    sideTicks(b, yFine, [8, 4], 1055, 1061, 1065, 10.5);
});

b.append("rect").attr("x", xB(1479.02)).attr("y", 771.7).attr("width", 1069 - xB(1479.02)).attr("height", 190)
    .attr("fill", "none").attr("stroke", "#b46bf5").attr("stroke-width", 1.4).attr("stroke-dasharray", "5 3");
b.append("text").text("Fetal AS").attr("x", 734).attr("y", 868).attr("dy", ".35em").attr("text-anchor", "middle")
    .attr("font-size", 25).attr("fill", "#fff").attr("stroke", "#dcdcdc").attr("stroke-width", 0.6);

sideBox(b, 15.5, 64.4, 964, 1137.3);
rotText(b, "GeneRegionTrack", 37, 1051, 13.5, "#f2f2f2");
sideBox(b, 15.5, 64.4, 1139.3, 1150);
rotText(b, "I", 36, 1144.5, 12, "#f2f2f2");

igf2Names.forEach(function (name, i) {
    drawGene(b, xB, name, igf2YB[i], 7.5, 4);
    if (i < 10) geneLabel(b, name, 155.6, igf2YB[i] + 2);
});
geneLabel(b, "IGF2(11)", 219.7, 1132.3);
drawGene(b, xB, "IGF2-AS", 971.7, 7.5, 4);
drawGene(b, xB, "INS(1)", 971.7, 7.5, 4);
drawGene(b, xB, "INS(2)", 987.7, 7.5, 4);
drawGene(b, xB, "TH", 971.7, 7.5, 4);
geneLabel(b, "IGF2-AS", 509, 985.3);
geneLabel(b, "INS(1)", 802.7, 974);
geneLabel(b, "INS(2)", 802.7, 989.7);
geneLabel(b, "TH", 868, 972.3);

hArrow(b, 520.7, 546.5, 983.3, 1);
hArrow(b, 814, 840, 998.7, -1);
hArrow(b, 926, 950.8, 983, -1);
hArrow(b, 459, 493, 1125.7, -1);

// red arrow at IGF2(3)
b.append("line").attr("x1", 75).attr("x2", 90).attr("y1", 1005).attr("y2", 1005).attr("stroke", "#d00000").attr("stroke-width", 2);
b.append("path").attr("d", d3.line()([[88, 1000.5], [96, 1005], [88, 1009.5]])).attr("fill", "#d00000");

drawCpg(b, xB, cpgB, 1144.3, 3.5);

</script>
</body>
</html>
